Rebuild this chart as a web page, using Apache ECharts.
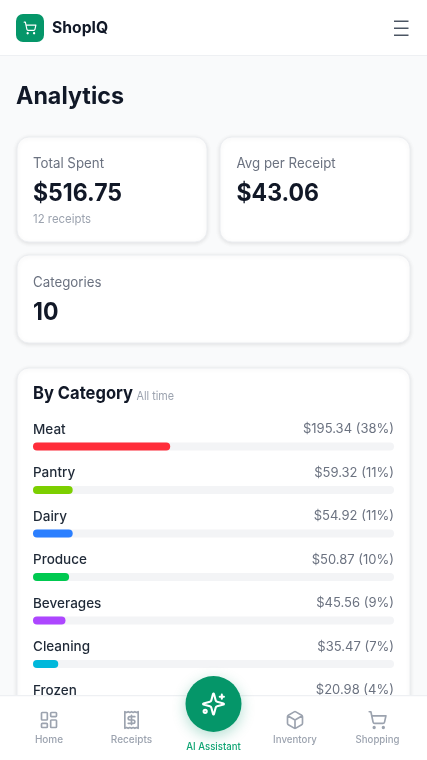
<!DOCTYPE html>
<html>
<head>
<meta charset="utf-8">
<title>ShopIQ Analytics</title>
<style>
    html, body { margin: 0; padding: 0; background: #f9fafb; }
    #chart { width: 427px; height: 760px; }
</style>
<script src="https://cdn.jsdelivr.net/npm/echarts@6/dist/echarts.min.js"></script>
</head>
<body>
<div id="chart"></div>
<script>
var categories = ['Meat', 'Pantry', 'Dairy', 'Produce', 'Beverages', 'Cleaning', 'Frozen'];
var amounts = ['$195.34', '$59.32', '$54.92', '$50.87', '$45.56', '$35.47', '$20.98'];
var percents = [38, 11, 11, 10, 9, 7, 4];
var barColors = ['#ff2d3a', '#7ccf00', '#2b7fff', '#00c950', '#ad46ff', '#00b8db', '#00b8d4'];
var navLabels = ['Home', 'Receipts', 'Inventory', 'Shopping'];

(function () {
    var chartDom = document.getElementById('chart');
    var myChart = echarts.init(chartDom);
    var option;

    var font = 'Inter, sans-serif';
    var green = '#059669';

    var amountLabels = amounts.map(function (a, i) {
        return a + ' (' + percents[i] + '%)';
    });

    // lucide icons, 24x24 box
    var icons = {
        cartIcon: 'M2.05 2.05h2l2.66 12.42a2 2 0 0 0 2 1.58h9.78a2 2 0 0 0 1.95-1.57l1.65-7.43H5.12M7 21a1 1 0 1 0 2 0a1 1 0 1 0-2 0M18 21a1 1 0 1 0 2 0a1 1 0 1 0-2 0',
        homeIcon: 'M4 3h5a1 1 0 0 1 1 1v7a1 1 0 0 1-1 1H4a1 1 0 0 1-1-1V4a1 1 0 0 1 1-1zM15 3h5a1 1 0 0 1 1 1v3a1 1 0 0 1-1 1h-5a1 1 0 0 1-1-1V4a1 1 0 0 1 1-1zM15 12h5a1 1 0 0 1 1 1v7a1 1 0 0 1-1 1h-5a1 1 0 0 1-1-1v-7a1 1 0 0 1 1-1zM4 16h5a1 1 0 0 1 1 1v3a1 1 0 0 1-1 1H4a1 1 0 0 1-1-1v-3a1 1 0 0 1 1-1z',
        receiptIcon: 'M4 2v20l2-1 2 1 2-1 2 1 2-1 2 1 2-1 2 1V2l-2 1-2-1-2 1-2-1-2 1-2-1-2 1ZM16 8h-6a2 2 0 1 0 0 4h4a2 2 0 1 1 0 4H8M12 17.5v-11',
        boxIcon: 'M21 8a2 2 0 0 0-1-1.73l-7-4a2 2 0 0 0-2 0l-7 4A2 2 0 0 0 3 8v8a2 2 0 0 0 1 1.73l7 4a2 2 0 0 0 2 0l7-4A2 2 0 0 0 21 16ZM3.3 7l8.7 5 8.7-5M12 22V12',
        sparkIcon: 'M9.937 15.5A2 2 0 0 0 8.5 14.063l-6.135-1.582a.5.5 0 0 1 0-.962L8.5 9.936A2 2 0 0 0 9.937 8.5l1.582-6.135a.5.5 0 0 1 .963 0L14.063 8.5A2 2 0 0 0 15.5 9.937l6.135 1.581a.5.5 0 0 1 0 .964L15.5 14.063a2 2 0 0 0-1.437 1.437l-1.582 6.135a.5.5 0 0 1-.963 0zM20 3v4M22 5h-4M2.5 19a1.5 1.5 0 1 0 3 0a1.5 1.5 0 1 0-3 0'
    };
    // graphic has no plain 'path' type, so each icon gets its own shape
    Object.keys(icons).forEach(function (name) {
        echarts.graphic.registerShape(name, echarts.graphic.extendPath(icons[name], {}));
    });

    // squeeze: the reference font runs a little narrower than Inter
    function text(str, x, y, size, weight, color, align, z, squeeze) {
        return {
            type: 'text',
            x: x,
            y: y,
            z: z || 1,
            scaleX: squeeze || 1,
            silent: true,
            style: {
                text: str,
                fontFamily: font,
                fontSize: size,
                fontWeight: weight,
                fill: color,
                textAlign: align || 'left',
                align: align || 'left',
                textVerticalAlign: 'middle',
                verticalAlign: 'middle'
            }
        };
    }

    function card(x, y, w, h) {
        return {
            type: 'rect',
            z: 0,
            silent: true,
            shape: { x: x, y: y, width: w, height: h, r: 12 },
            style: {
                fill: '#fff',
                stroke: '#eceef1',
                lineWidth: 1,
                shadowBlur: 4,
                shadowOffsetY: 1,
                shadowColor: 'rgba(0,0,0,0.10)'
            }
        };
    }

    function icon(name, x, y, size, color, z) {
        var s = size / 24;
        return {
            type: name,
            x: x,
            y: y,
            scaleX: s,
            scaleY: s,
            z: z,
            silent: true,
            style: { fill: 'none', stroke: color, lineWidth: 2, lineCap: 'round', lineJoin: 'round' }
        };
    }

    var elements = [
        // header
        { type: 'rect', z: 50, silent: true, shape: { x: 0, y: 0, width: 427, height: 55.5 }, style: { fill: '#fff' } },
        { type: 'rect', z: 50, silent: true, shape: { x: 0, y: 55, width: 427, height: 1 }, style: { fill: '#eef0f3' } },
        { type: 'rect', z: 51, silent: true, shape: { x: 16, y: 14, width: 28, height: 28, r: 7 }, style: { fill: green } },
        icon('cartIcon', 23, 21, 14, '#fff', 52),
        text('ShopIQ', 52, 28, 16, 700, '#111827', 'left', 52, 0.98),
        { type: 'rect', z: 52, silent: true, shape: { x: 394, y: 20.5, width: 14.5, height: 1.5 }, style: { fill: '#4b5563' } },
        { type: 'rect', z: 52, silent: true, shape: { x: 394, y: 27.5, width: 14.5, height: 1.5 }, style: { fill: '#4b5563' } },
        { type: 'rect', z: 52, silent: true, shape: { x: 394, y: 34.5, width: 14.5, height: 1.5 }, style: { fill: '#4b5563' } },

        text('Analytics', 16, 97, 24, 700, '#111827', 'left', 1, 0.97),

        // stat cards
        card(17, 137, 190, 105),
        card(220, 137, 190, 105),
        card(17, 255, 393, 88),
        card(17, 368, 393, 400),
        text('Total Spent', 33, 164, 14, 400, '#6b7280', 'left', 1, 0.95),
        text('$516.75', 33, 193.5, 24, 700, '#111827', 'left', 1, 0.96),
        text('12 receipts', 33, 219, 12, 400, '#9ca3af', 'left', 1, 0.95),
        text('Avg per Receipt', 236.5, 164, 14, 400, '#6b7280', 'left', 1, 0.95),
        text('$43.06', 236.5, 193.5, 24, 700, '#111827', 'left', 1, 0.96),
        text('Categories', 33, 283, 14, 400, '#6b7280', 'left', 1, 0.95),
        text('10', 33, 312.5, 24, 700, '#111827', 'left', 1, 0.96),
        text('By Category', 33, 394, 18, 700, '#111827', 'left', 1, 0.92),
        text('All time', 136.5, 396, 12, 400, '#9ca3af', 'left', 1, 0.9),

        // bottom nav
        { type: 'rect', z: 60, silent: true, shape: { x: 0, y: 696, width: 427, height: 64 }, style: { fill: '#fff' } },
        { type: 'rect', z: 60, silent: true, shape: { x: 0, y: 695, width: 427, height: 1.2 }, style: { fill: '#eef0f3' } },
        icon('homeIcon', 39, 710, 20, '#9ca3af', 61),
        icon('receiptIcon', 121.5, 710, 20, '#9ca3af', 61),
        icon('boxIcon', 285, 710, 20, '#9ca3af', 61),
        icon('cartIcon', 367.5, 710, 20, '#9ca3af', 61),
        text(navLabels[0], 49, 740, 10, 500, '#9ca3af', 'center', 61),
        text(navLabels[1], 131.5, 740, 10, 500, '#9ca3af', 'center', 61),
        text(navLabels[2], 295, 740, 10, 500, '#9ca3af', 'center', 61, 0.97),
        text(navLabels[3], 377.5, 740, 10, 500, '#9ca3af', 'center', 61, 0.96),
        {
            type: 'circle',
            z: 62,
            silent: true,
            shape: { cx: 213.5, cy: 704, r: 28 },
            style: { fill: green, shadowBlur: 14, shadowOffsetY: 4, shadowColor: 'rgba(5,150,105,0.30)' }
        },
        icon('sparkIcon', 201, 691.5, 25, '#fff', 63),
        text('AI Assistant', 213.5, 747, 10, 500, '#10a574', 'center', 61, 0.96)
    ];

    option = {
        backgroundColor: '#f9fafb',
        animation: false,
        textStyle: { fontFamily: font },
        graphic: { elements: elements },
        grid: {
            left: 33,
            top: 424.75,
            width: 361,
            height: 304.5
        },
        xAxis: {
            type: 'value',
            min: 0,
            max: 100,
            show: false
        },
        yAxis: [
            {
                type: 'category',
                inverse: true,
                position: 'left',
                data: categories,
                z: 5,
                axisLine: { show: false },
                axisTick: { show: false },
                axisLabel: {
                    inside: true,
                    margin: 0,
                    verticalAlign: 'bottom',
                    lineHeight: 14,
                    padding: [0, 0, 10, 0],
                    fontFamily: font,
                    fontSize: 13.5,
                    fontWeight: 500,
                    color: '#1f2937'
                }
            },
            {
                type: 'category',
                inverse: true,
                position: 'right',
                data: amountLabels,
                z: 5,
                axisLine: { show: false },
                axisTick: { show: false },
                axisLabel: {
                    inside: true,
                    margin: 0,
                    verticalAlign: 'bottom',
                    lineHeight: 14,
                    padding: [0, 0, 10, 0],
                    fontFamily: font,
                    fontSize: 13,
                    color: '#6b7280'
                }
            }
        ],
        series: [{
            type: 'bar',
            yAxisIndex: 0,
            barWidth: 8,
            z: 2,
            silent: true,
            showBackground: true,
            backgroundStyle: { color: '#f3f4f6', borderRadius: 4 },
            itemStyle: {
                borderRadius: 4,
                color: function (p) {
                    return barColors[p.dataIndex];
                }
            },
            data: percents
        }]
    };

    myChart.setOption(option);
    window.addEventListener('resize', function () {
        myChart.resize();
    });
})();
</script>
</body>
</html>
